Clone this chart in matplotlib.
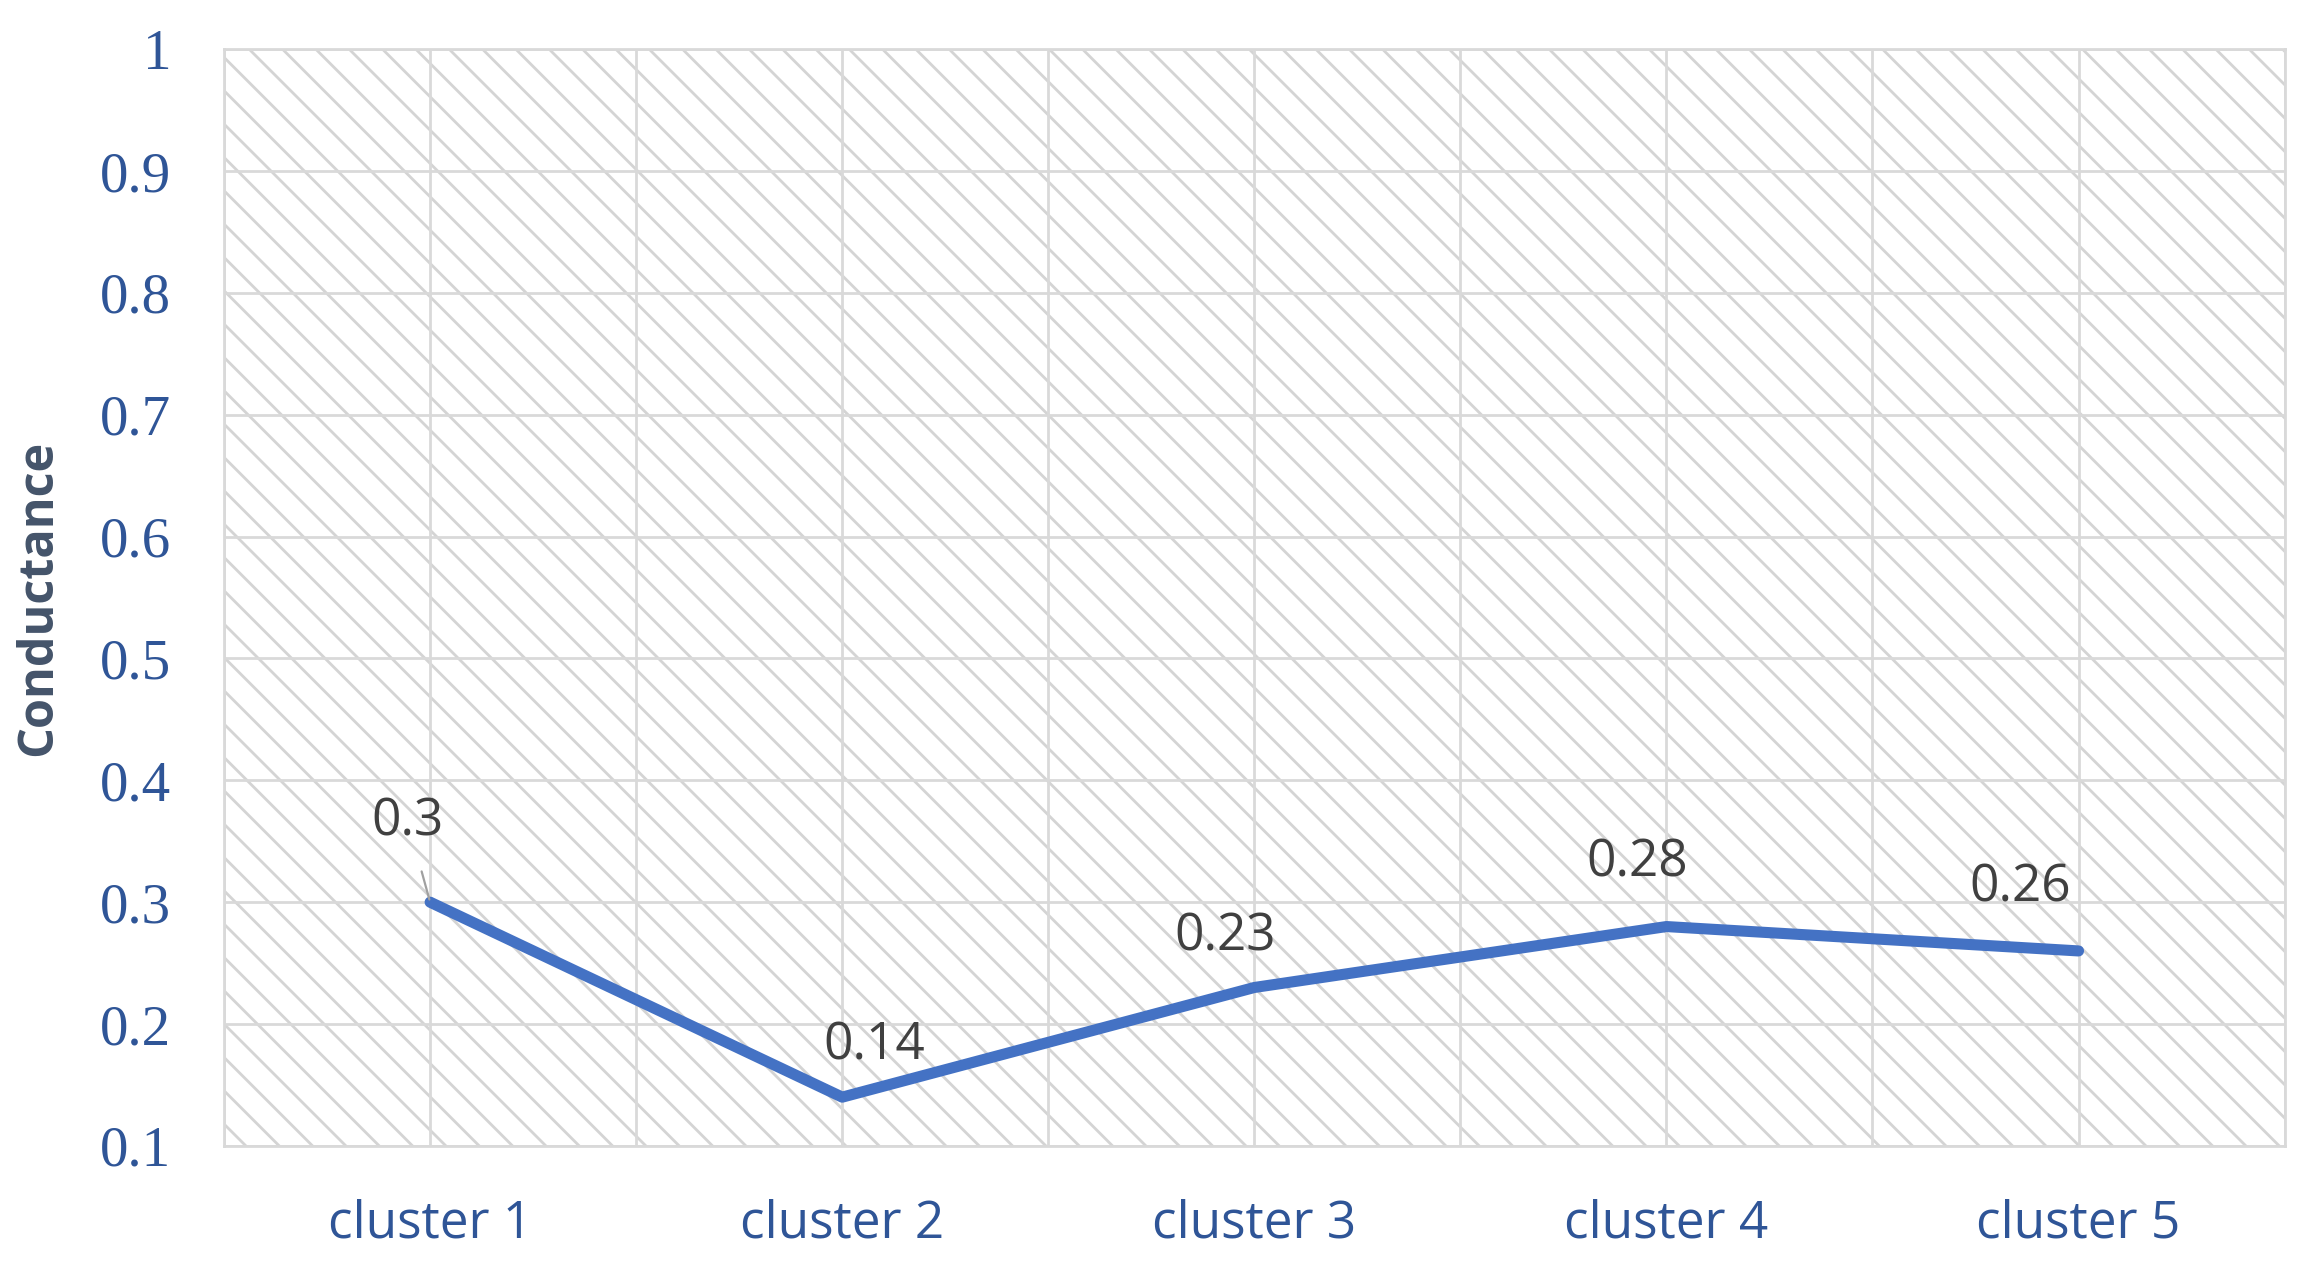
import matplotlib
matplotlib.use("Agg")
import matplotlib.pyplot as plt
from matplotlib.patches import Rectangle
from matplotlib.ticker import MultipleLocator

categories = ["cluster 1", "cluster 2", "cluster 3", "cluster 4", "cluster 5"]
conductance = [0.3, 0.14, 0.23, 0.28, 0.26]
value_labels = ["0.3", "0.14", "0.23", "0.28", "0.26"]
y_ticks = [0.1, 0.2, 0.3, 0.4, 0.5, 0.6, 0.7, 0.8, 0.9, 1.0]
y_ticklabels = ["0.1", "0.2", "0.3", "0.4", "0.5", "0.6", "0.7", "0.8", "0.9", "1"]

# label offsets in points (style only)
label_offsets = [(-8, 29), (11.5, 18.5), (-10.5, 18), (-10.5, 23), (-21, 22.5)]

plt.rcParams['hatch.linewidth'] = 1.0

fig = plt.figure(figsize=(11.55, 6.31), dpi=200)
ax = fig.add_axes([0.097, 0.092, 0.892, 0.869])

grid_col = "#d9d9d9"
ax.add_patch(Rectangle((0, 0), 1, 1, transform=ax.transAxes, fill=False,
                       hatch="\\\\", edgecolor="#d4d4d4", linewidth=0, zorder=0))

x = list(range(len(categories)))
ax.set_xlim(-0.5, len(categories) - 0.5)
ax.set_ylim(0.1, 1.0)

ax.xaxis.set_minor_locator(MultipleLocator(0.5))
ax.grid(which="both", axis="x", color=grid_col, linewidth=1.0, zorder=1)
ax.grid(which="major", axis="y", color=grid_col, linewidth=1.0, zorder=1)
ax.set_axisbelow(True)

ax.plot(x, conductance, color="#4472C4", linewidth=4.0, solid_capstyle="round",
        solid_joinstyle="round", zorder=3)

lab_font = dict(fontsize=18.5, color="#404040", family="Open Sans")
for i, (xi, yi) in enumerate(zip(x, conductance)):
    dx, dy = label_offsets[i]
    if i == 0:
        ax.annotate(value_labels[i], (xi, yi), xytext=(dx, dy), textcoords="offset points",
                    ha="center", va="center",
                    arrowprops=dict(arrowstyle="-", color="#a0a0a0", lw=0.8,
                                    shrinkA=7, shrinkB=1), zorder=4, **lab_font)
    else:
        ax.annotate(value_labels[i], (xi, yi), xytext=(dx, dy), textcoords="offset points",
                    ha="center", va="center", zorder=4, **lab_font)

ax.set_xticks(x)
ax.set_xticklabels(categories, fontsize=18.5, color="#2F5597", family="Open Sans")
ax.set_yticks(y_ticks)
ax.set_yticklabels(y_ticklabels, fontsize=20.5, color="#2F5597", family="Liberation Serif")
ax.tick_params(axis="both", which="both", length=0)
ax.tick_params(axis="x", pad=19)
ax.tick_params(axis="y", pad=19)

for s in ax.spines.values():
    s.set_color(grid_col)
    s.set_linewidth(1.0)

ax.set_ylabel("Conductance", fontsize=17.5, fontweight="bold", color="#44546A",
              family="Open Sans")
ax.yaxis.set_label_coords(-0.078, 0.5)

fig.savefig("out.png", dpi=200)
